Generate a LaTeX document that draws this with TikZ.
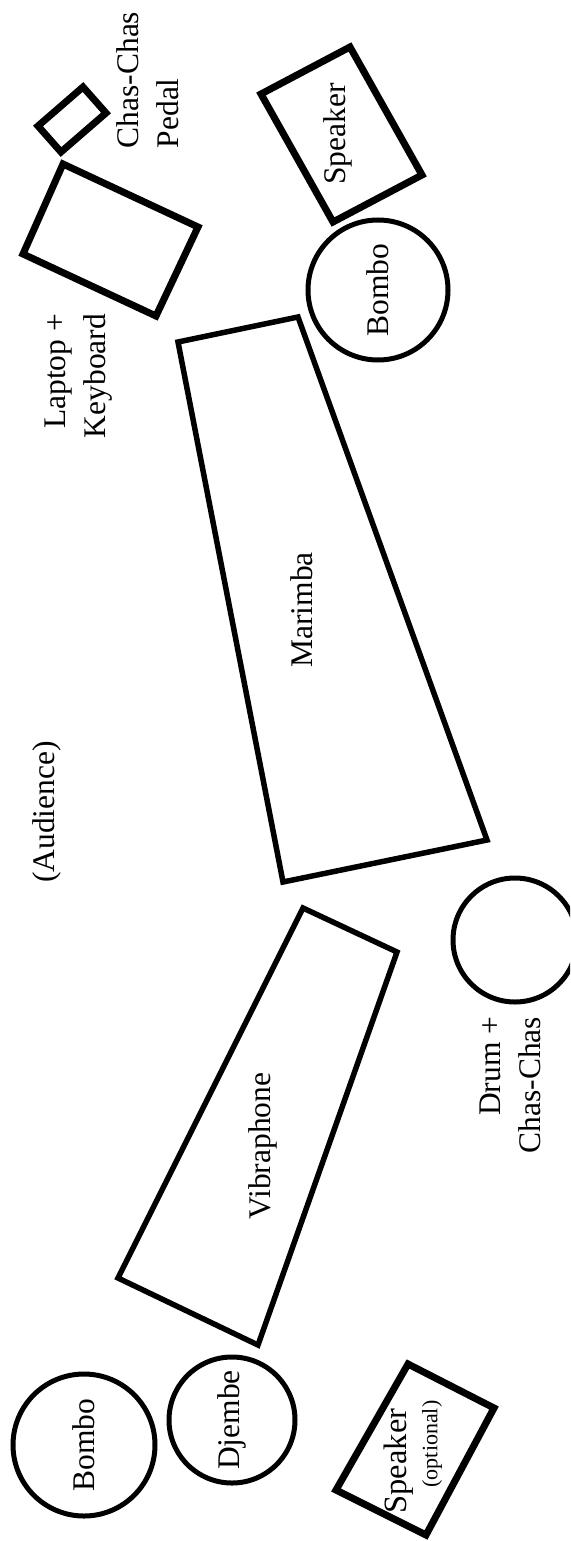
\documentclass[tikz,border=0pt]{standalone}
\usepackage{fontspec}
\setmainfont{Liberation Serif}
\begin{document}
\begin{tikzpicture}[x=1pt,y=-1pt,
  box/.style={draw, line width=7pt, line join=miter},
  bar/.style={draw, line width=5.5pt, line join=miter},
  drum/.style={draw, circle, line width=5pt, inner sep=0pt},
  lbl/.style={rotate=90, font=\fontsize{31.5}{40}\selectfont, inner sep=0pt}]
\useasboundingbox (0,0) rectangle (570,1541);
\clip (0,0) rectangle (570,1541);

% Chas-Chas pedal
\draw[box] (83,87) -- (106,113) -- (61,152) -- (38,126) -- cycle;
\node[lbl, align=left] (pedal) at (148,80) {Chas-Chas\\Pedal};

% Laptop + Keyboard
\draw[box] (63,164) -- (198,227) -- (156,316) -- (23,254) -- cycle;
\node[lbl, align=right] (laptop) at (79,376) {Laptop +\\Keyboard};

% Speaker top
\draw[box] (350,47) -- (422,175) -- (333,222) -- (261,94) -- cycle;
\node[lbl] (speaker) at (338,134) {Speaker};

% Bombo top
\node[drum, lbl, minimum size=140pt] (bombo1) at (378,290) {Bombo};

% Marimba
\draw[bar] (178,342) -- (298,317) -- (487,840) -- (283,882) -- cycle;
\node[lbl] (marimba) at (302,610) {Marimba};

% Audience
\node[lbl] (audience) at (47,812) {(Audience)};

% Vibraphone
\draw[bar] (303,908) -- (397,952) -- (258,1345) -- (118,1278) -- cycle;
\node[lbl] (vibra) at (263,1146) {Vibraphone};

% Drum + Chas-Chas
\node[drum, minimum size=124pt] (drum) at (515,940) {};
\node[lbl, align=right] (drumlbl) at (510,1085) {Drum +\\Chas-Chas};

% Bombo bottom
\node[drum, lbl, minimum size=142pt] (bombo2) at (84,1445) {Bombo};

% Djembe
\node[drum, lbl, minimum size=126pt] (djembe) at (232,1420) {Djembe};

% Speaker (optional)
\draw[box] (408,1364) -- (494,1408) -- (426,1535) -- (336,1490) -- cycle;
\node[lbl, font=\fontsize{32.5}{40}\selectfont] (spkopt) at (399,1461) {Speaker};
\node[rotate=90, inner sep=0pt, font=\fontsize{22}{26}\selectfont] (optional) at (432,1444) {(optional)};
\end{tikzpicture}
\end{document}
